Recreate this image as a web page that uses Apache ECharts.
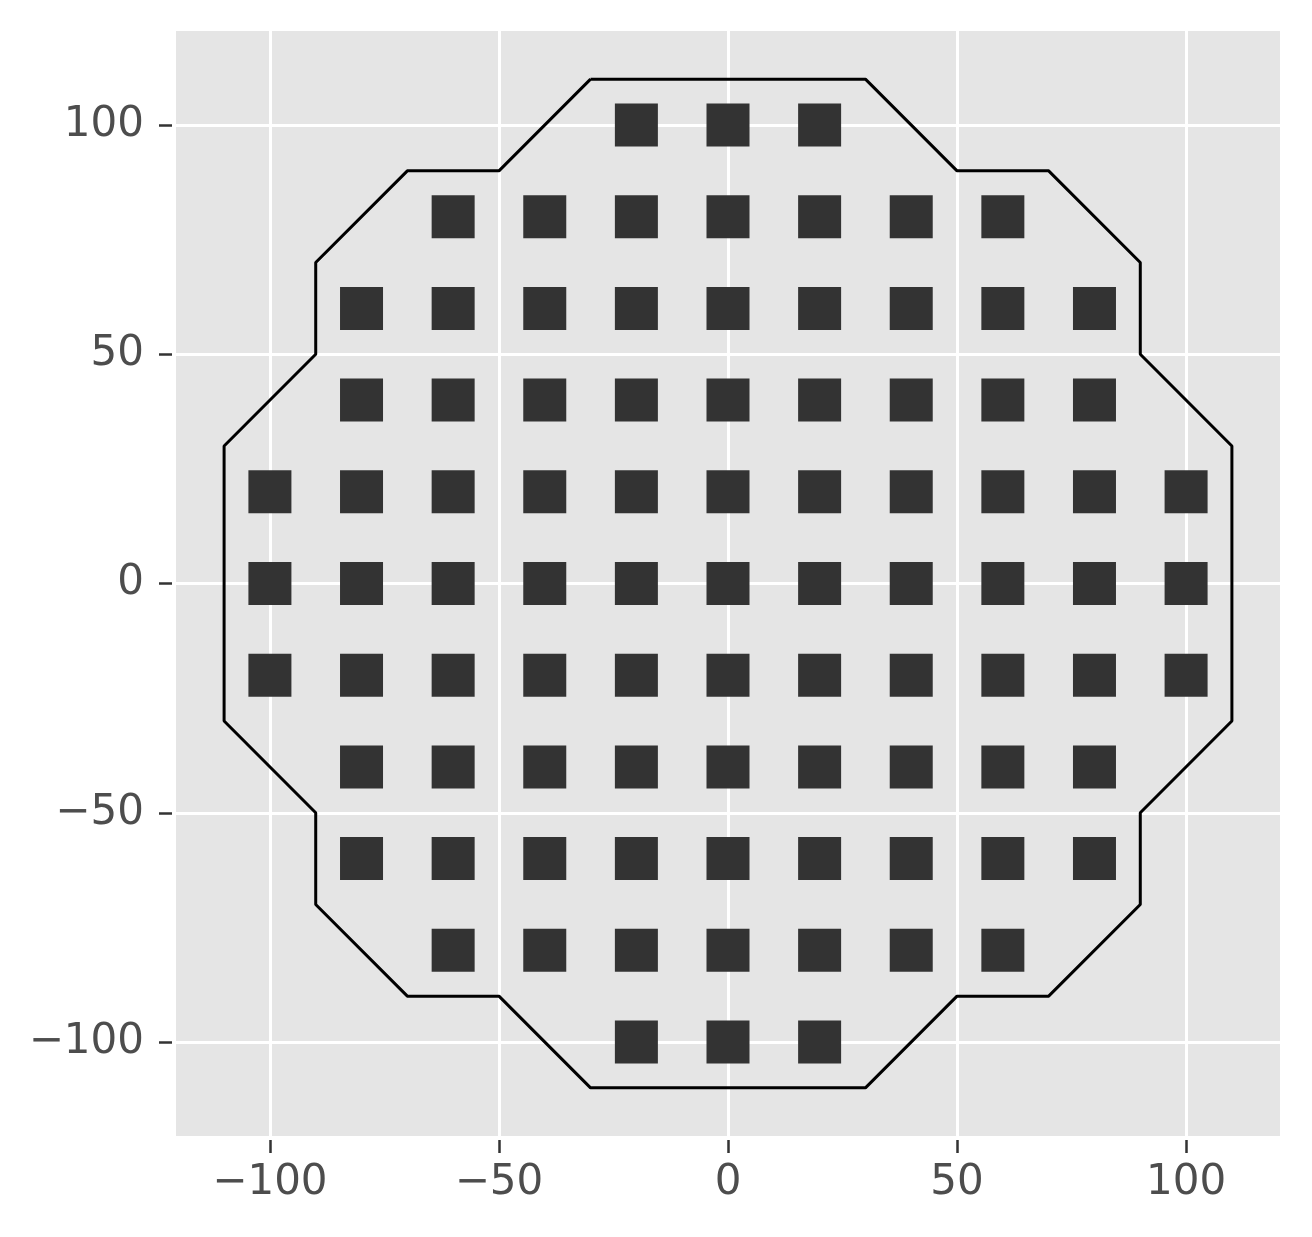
<!DOCTYPE html>
<html>
<head>
<meta charset="utf-8">
<script src="https://cdn.jsdelivr.net/npm/echarts@6/dist/echarts.min.js"></script>
<style>
  html, body { margin: 0; padding: 0; background: #fff; }
  #chart { width: 1312px; height: 1237px; }
</style>
</head>
<body>
<div id="chart"></div>
<script>
// die positions: one x list per row
const rowY = [100, 80, 60, 40, 20, 0, -20, -40, -60, -80, -100];
const rowX = [
  [-20, 0, 20],
  [-60, -40, -20, 0, 20, 40, 60],
  [-80, -60, -40, -20, 0, 20, 40, 60, 80],
  [-80, -60, -40, -20, 0, 20, 40, 60, 80],
  [-100, -80, -60, -40, -20, 0, 20, 40, 60, 80, 100],
  [-100, -80, -60, -40, -20, 0, 20, 40, 60, 80, 100],
  [-100, -80, -60, -40, -20, 0, 20, 40, 60, 80, 100],
  [-80, -60, -40, -20, 0, 20, 40, 60, 80],
  [-80, -60, -40, -20, 0, 20, 40, 60, 80],
  [-60, -40, -20, 0, 20, 40, 60],
  [-20, 0, 20]
];

// outline polygon (closed)
const outlineX = [-30, 30, 50, 70, 90, 90, 110, 110, 90, 90, 70, 50, 30, -30, -50, -70, -90, -90, -110, -110, -90, -90, -70, -50, -30];
const outlineY = [110, 110, 90, 90, 70, 50, 30, -30, -50, -70, -90, -90, -110, -110, -90, -90, -70, -50, -30, 30, 50, 70, 90, 90, 110];

const tickValues = [-100, -50, 0, 50, 100];

const chart = echarts.init(document.getElementById('chart'));

const points = [];
rowY.forEach((y, i) => {
  rowX[i].forEach(x => points.push([x, y]));
});
const outline = outlineX.map((x, i) => [x, outlineY[i]]);

const fmt = v => String(v).replace('-', '\u2212');

function makeAxis(pos) {
  const isX = pos === 'bottom';
  return {
    type: 'value',
    position: pos,
    min: -120.5,
    max: 120.5,
    offset: 4,
    axisLine: { show: false, onZero: false },
    axisTick: {
      show: true,
      length: 13,
      customValues: tickValues,
      lineStyle: { color: '#333333', width: 2.5 }
    },
    axisLabel: {
      customValues: tickValues,
      formatter: fmt,
      fontFamily: 'DejaVu Sans',
      fontSize: 42,
      color: '#4D4D4D',
      margin: isX ? 22 : 28,
      padding: isX ? 0 : [7, 0, 0, 0]
    },
    splitLine: {
      show: true,
      lineStyle: { color: '#FFFFFF', width: 3 }
    }
  };
}

const option = {
  backgroundColor: '#FFFFFF',
  animation: false,
  grid: {
    left: 176,
    top: 31,
    right: 32,
    bottom: 101,
    show: true,
    backgroundColor: '#E5E5E5',
    borderWidth: 0
  },
  xAxis: makeAxis('bottom'),
  yAxis: makeAxis('left'),
  series: [
    {
      type: 'scatter',
      data: points,
      symbol: 'rect',
      symbolSize: 43,
      itemStyle: { color: '#333333', opacity: 1 },
      z: 2
    },
    {
      type: 'line',
      data: outline,
      showSymbol: false,
      lineStyle: { color: '#000000', width: 3 },
      z: 3
    }
  ]
};

chart.setOption(option);
</script>
</body>
</html>
